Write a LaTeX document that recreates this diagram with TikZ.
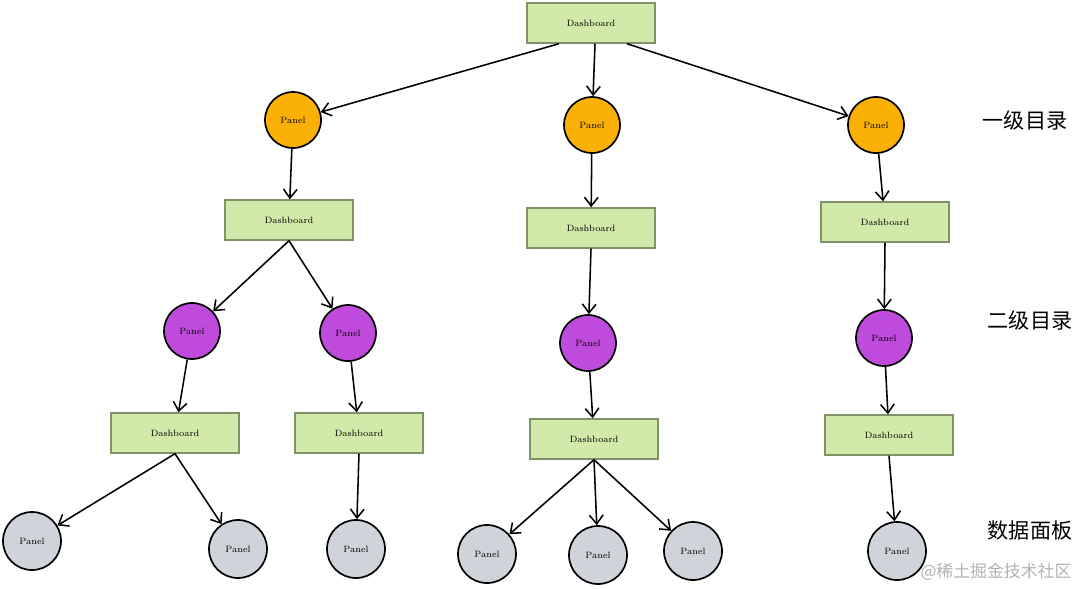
\documentclass[tikz,border=0pt]{standalone}
\usepackage{fontspec}
\usetikzlibrary{arrows.meta}
\newfontfamily\cjk{Noto Sans CJK SC}
\definecolor{boardfill}{HTML}{D1E9A9}
\definecolor{boardline}{HTML}{7F9366}
\definecolor{lvlone}{HTML}{FAB005}
\definecolor{lvltwo}{HTML}{BE4BDB}
\definecolor{leaffill}{HTML}{CED4DA}
\begin{document}
\begin{tikzpicture}
  [x=0.025cm,y=-0.025cm,line width=1.1pt,>={Straight Barb[length=2.2mm,width=3.4mm]},
   every node/.style={font=\fontsize{6.5}{8}\selectfont},
   board/.style={rectangle,draw=boardline,line width=1pt,fill=boardfill,minimum width=3.2cm,minimum height=1cm},
   lone/.style={circle,draw,line width=1.2pt,fill=lvlone,minimum size=1.4cm},
   ltwo/.style={circle,draw,line width=1.2pt,fill=lvltwo,minimum size=1.4cm},
   leaf/.style={circle,draw,line width=1.2pt,fill=leaffill,minimum size=1.45cm},
   tag/.style={font=\cjk\fontsize{15}{18}\selectfont}]
  \useasboundingbox (0,0) rectangle (1080,588);

  \node[board] (db) at (591,23) {Dashboard};

  \node[lone] (pa) at (293,120) {Panel};
  \node[lone] (pb) at (592,125) {Panel};
  \node[lone] (pc) at (876,125) {Panel};

  \node[board] (da) at (289,220) {Dashboard};
  \node[board] (dbb) at (591,228) {Dashboard};
  \node[board] (dc) at (885,222) {Dashboard};

  \node[ltwo] (qa) at (192,331) {Panel};
  \node[ltwo] (qb) at (348,333) {Panel};
  \node[ltwo] (qc) at (588,343) {Panel};
  \node[ltwo] (qd) at (884,338) {Panel};

  \node[board] (ea) at (175,433) {Dashboard};
  \node[board] (eb) at (359,433) {Dashboard};
  \node[board] (ec) at (594,439) {Dashboard};
  \node[board] (ed) at (889,435) {Dashboard};

  \node[leaf] (ga) at (32,541) {Panel};
  \node[leaf] (gb) at (238,549) {Panel};
  \node[leaf] (gc) at (356,549) {Panel};
  \node[leaf] (gd) at (487,554) {Panel};
  \node[leaf] (ge) at (598,555) {Panel};
  \node[leaf] (gf) at (693,551) {Panel};
  \node[leaf] (gg) at (897,551) {Panel};

  \node[tag] (ta) at (1025,120) {一级目录};
  \node[tag] (tb) at (1030,320) {二级目录};
  \node[tag] (tc) at (1030,530) {数据面板};
  \node[font=\cjk\fontsize{12}{14}\selectfont,text=black!30] (wm) at (996,572) {@稀土掘金技术社区};

  \draw[->] ([xshift=-0.8cm]db.south) -- (pa);
  \draw[->] ([xshift=0.1cm]db.south) -- (pb);
  \draw[->] ([xshift=0.9cm]db.south) -- (pc);

  \foreach \from/\to in {pa/da,pb/dbb,pc/dc,qa/ea,qb/eb,qc/ec,qd/ed}
    \draw[->] (\from) -- (\to);

  \foreach \from/\to in {da/qa,da/qb,dbb/qc,dc/qd,ea/ga,ea/gb,eb/gc,ec/gd,ec/ge,ec/gf,ed/gg}
    \draw[->] (\from.south) -- (\to);

\end{tikzpicture}
\end{document}
